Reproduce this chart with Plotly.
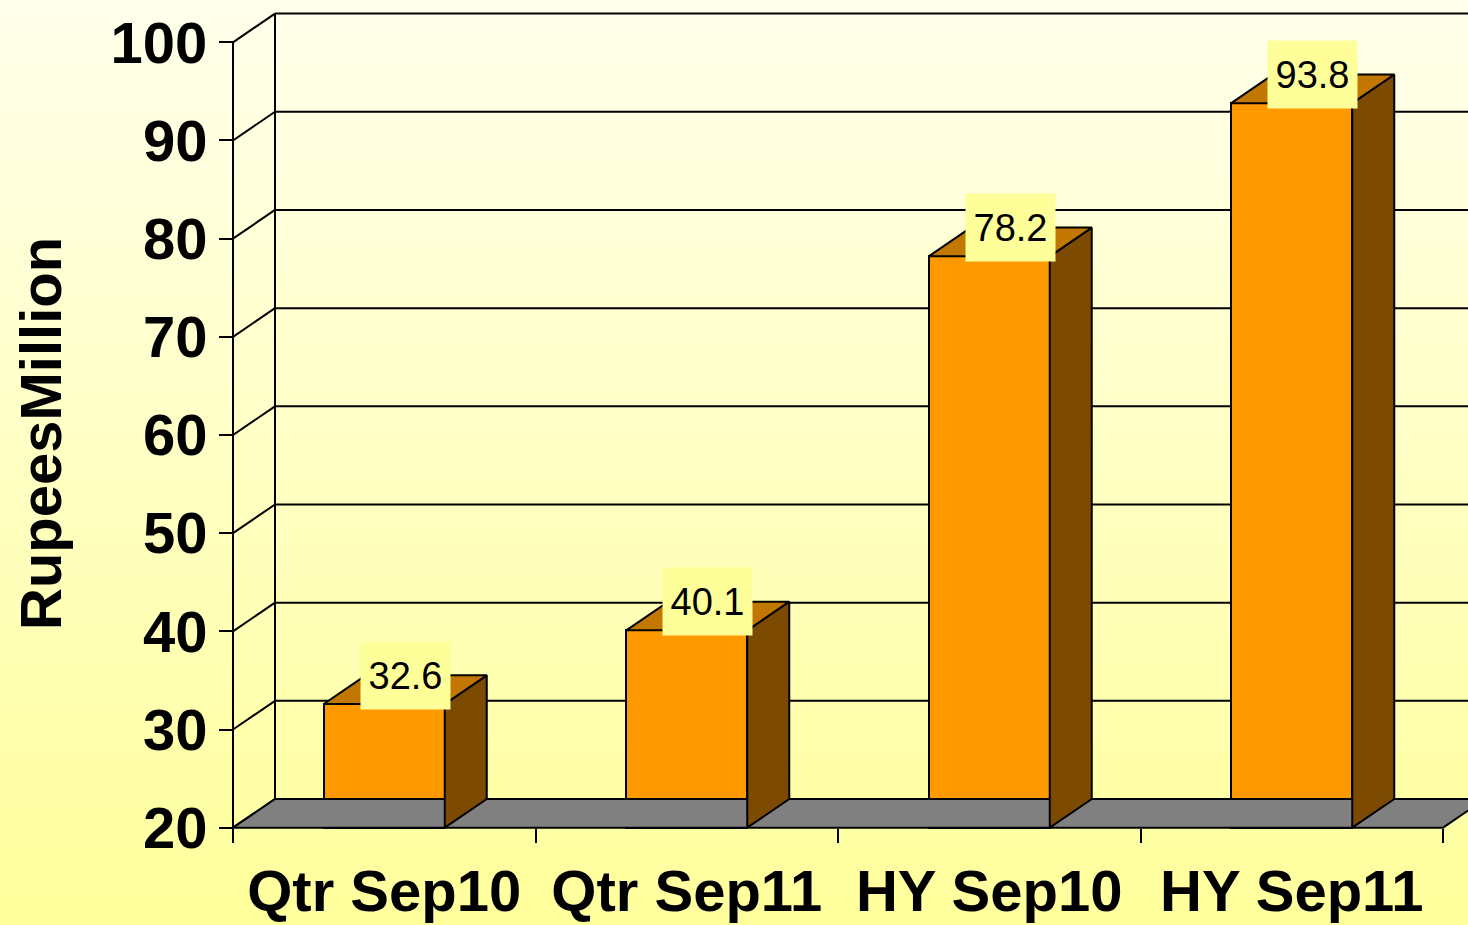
import plotly.graph_objects as go

# ---------------- data ----------------
categories = ["Qtr Sep10", "Qtr Sep11", "HY Sep10", "HY Sep11"]
values = [32.6, 40.1, 78.2, 93.8]
value_labels = ["32.6", "40.1", "78.2", "93.8"]
y_ticks = [20, 30, 40, 50, 60, 70, 80, 90, 100]
y_title = "RupeesMillion"

# ---------------- geometry (pixels) ----------------
W, H = 1468, 925
AX_X, AX_Y = 233, 827.7          # front-left corner (x=-0.5, y=20)
CAT_PX, UNIT_PX = 302.5, 9.8175   # px per category, px per value unit
DEPTH_X_PX, DEPTH_Y_PX = 42, 28.7
BASE = 20
XL_PX, YB_PX, YT_PX = 200, 850, 5
BAR_W = 0.4

dx = DEPTH_X_PX / CAT_PX
dy = DEPTH_Y_PX / UNIT_PX
x_lo = -0.5 - (AX_X - XL_PX) / CAT_PX
x_hi = -0.5 + (W - AX_X) / CAT_PX
y_lo = BASE - (YB_PX - AX_Y) / UNIT_PX
y_hi = BASE + (AX_Y - YT_PX) / UNIT_PX
n = len(categories)
xs = list(range(n))

FONT = "Liberation Sans, Arial, sans-serif"
FRONT, TOP, SIDE, FLOOR = "#FF9900", "#C27800", "#7C4A00", "#808080"

fig = go.Figure()

# floor
fx = [-0.5, n - 0.5, n - 0.5 + dx, -0.5 + dx, -0.5]
fy = [BASE, BASE, BASE + dy, BASE + dy, BASE]
fig.add_trace(go.Scatter(x=fx, y=fy, mode="lines", fill="toself", fillcolor=FLOOR,
                         line=dict(color="black", width=2), hoverinfo="skip", showlegend=False))

# front faces
fig.add_trace(go.Bar(x=xs, y=[v - BASE for v in values], base=BASE, width=BAR_W,
                     marker=dict(color=FRONT, line=dict(color="black", width=2)),
                     showlegend=False, hoverinfo="skip"))

# side faces
sx, sy = [], []
for i, v in zip(xs, values):
    r = i + BAR_W / 2
    sx += [r, r + dx, r + dx, r, r, None]
    sy += [BASE, BASE + dy, v + dy, v, BASE, None]
fig.add_trace(go.Scatter(x=sx, y=sy, mode="lines", fill="toself", fillcolor=SIDE,
                         line=dict(color="black", width=2), hoverinfo="skip", showlegend=False))

# top faces
tx, ty = [], []
for i, v in zip(xs, values):
    l, r = i - BAR_W / 2, i + BAR_W / 2
    tx += [l, r, r + dx, l + dx, l, None]
    ty += [v, v, v + dy, v + dy, v, None]
fig.add_trace(go.Scatter(x=tx, y=ty, mode="lines", fill="toself", fillcolor=TOP,
                         line=dict(color="black", width=2), hoverinfo="skip", showlegend=False))

shapes = []
# background gradient bands
N = 120
top_c, bot_c = (0xFF, 0xFF, 0xEC), (0xFF, 0xFF, 0x9C)
for k in range(N):
    t = (k + 0.5) / N
    c = tuple(round(bot_c[j] + (top_c[j] - bot_c[j]) * t) for j in range(3))
    shapes.append(dict(type="rect", xref="paper", yref="paper", x0=0, x1=1,
                       y0=k / N, y1=(k + 1.6) / N, layer="below",
                       fillcolor="rgb(%d,%d,%d)" % c, line=dict(width=0)))

wall_line = dict(color="black", width=2)
# back wall left edge
shapes.append(dict(type="line", xref="x", yref="y", x0=-0.5 + dx, x1=-0.5 + dx,
                   y0=BASE + dy, y1=y_ticks[-1] + dy, line=wall_line, layer="below"))
# front axis line
shapes.append(dict(type="line", xref="x", yref="y", x0=-0.5, x1=-0.5,
                   y0=BASE, y1=y_ticks[-1], line=wall_line, layer="below"))
for v in y_ticks:
    shapes.append(dict(type="line", xref="x", yref="y", x0=-0.5 + dx, x1=x_hi,
                       y0=v + dy, y1=v + dy, line=wall_line, layer="below"))
    shapes.append(dict(type="line", xref="x", yref="y", x0=-0.5, x1=-0.5 + dx,
                       y0=v, y1=v + dy, line=wall_line, layer="below"))

annotations = []
for i, v, lab in zip(xs, values, value_labels):
    annotations.append(dict(x=i + dx / 2, y=v + dy, xref="x", yref="y", text=lab,
                            showarrow=False, bgcolor="#FFFF99", width=89, height=67,
                            borderpad=0, font=dict(family=FONT, size=38, color="black")))
annotations.append(dict(x=40 / W, y=1 - 434 / H, xref="paper", yref="paper", text=y_title,
                        textangle=-90, showarrow=False, xanchor="center", yanchor="middle",
                        font=dict(family=FONT, size=58, color="black", weight="bold")))

fig.update_layout(
    width=W, height=H, autosize=False,
    margin=dict(l=0, r=0, t=0, b=0, pad=0, autoexpand=False),
    paper_bgcolor="#FFFFC4",
    plot_bgcolor="rgba(0,0,0,0)",
    shapes=shapes,
    annotations=annotations,
    bargap=0,
    xaxis=dict(range=[x_lo, x_hi], domain=[XL_PX / W, 1], anchor="free",
               position=1 - AX_Y / H, automargin=False,
               tickvals=xs, ticktext=categories, ticks="", ticklabelstandoff=24,
               tickfont=dict(family=FONT, size=58, color="black", weight="bold"),
               minor=dict(tickvals=[i - 0.5 for i in range(n + 1)], ticks="outside",
                          ticklen=14, tickwidth=2, tickcolor="black", showgrid=False),
               showline=False, showgrid=False, zeroline=False, fixedrange=True),
    yaxis=dict(range=[y_lo, y_hi], domain=[1 - YB_PX / H, 1 - YT_PX / H], anchor="free",
               position=AX_X / W, side="left", automargin=False,
               tickvals=y_ticks, ticks="outside", ticklen=14, tickwidth=2, tickcolor="black",
               tickfont=dict(family=FONT, size=58, color="black", weight="bold"),
               showline=False, showgrid=False, zeroline=False, fixedrange=True),
)

fig.write_html("out.html",
               config={"responsive": False, "displayModeBar": False},
               post_script="document.body.style.margin='0px';document.body.style.overflow='hidden';")
